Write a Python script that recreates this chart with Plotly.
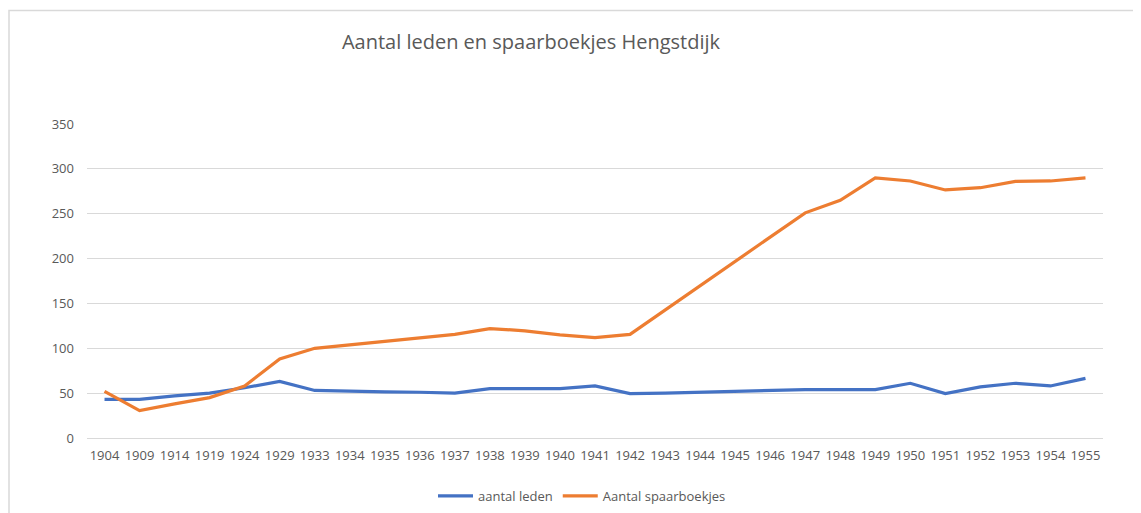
import plotly.graph_objects as go

years = ["1904", "1909", "1914", "1919", "1924", "1929", "1933", "1934", "1935", "1936",
         "1937", "1938", "1939", "1940", "1941", "1942", "1943", "1944", "1945", "1946",
         "1947", "1948", "1949", "1950", "1951", "1952", "1953", "1954", "1955"]

aantal_leden = [43, 43, 47, 50, 56, 63, 53, 52, 51.5, 51, 50, 55, 55, 55, 58, 49.5,
                50, 51, 51.7, 52.4, 54, 54, 54, 61, 49.5, 57, 61, 58, 66.5]

aantal_spaarboekjes = [52, 30.5, 38, 45, 58, 88, 100, 104, 107.5, 111.5, 115.5, 122, 119.5,
                       115, 112, 115.5, 142.5, 169, 196, 223, 251, 265, 290, 286.5, 276.5,
                       279, 286, 286.5, 290]

y_ticks = [0, 50, 100, 150, 200, 250, 300, 350]

FONT = "Open Sans"
GREY = "#595959"

W, H = 1133, 505
L, R, T, B = 79, 1095, 116, 430

fig = go.Figure()
fig.add_trace(go.Scatter(x=years, y=aantal_leden, mode="lines", name="aantal leden",
                         line=dict(color="#4472C4", width=3.2)))
fig.add_trace(go.Scatter(x=years, y=aantal_spaarboekjes, mode="lines", name="Aantal spaarboekjes",
                         line=dict(color="#ED7D31", width=3.2)))

pw, ph = R - L, B - T

fig.update_layout(
    width=W, height=H,
    margin=dict(l=L, r=W - R, t=T, b=H - B, autoexpand=False),
    paper_bgcolor="white", plot_bgcolor="white",
    font=dict(family=FONT, size=13, color=GREY),
    title=dict(text="Aantal leden en spaarboekjes Hengstdijk", x=523 / W, xref="container",
               xanchor="center", y=1 - 34 / H, yref="container", yanchor="middle",
               font=dict(family=FONT, size=20, color=GREY)),
    showlegend=True,
    legend=dict(orientation="h", x=(574 - L) / pw, xanchor="center", y=(B - 488) / ph,
                yanchor="middle", font=dict(family=FONT, size=13, color=GREY), itemwidth=35,
                traceorder="normal"),
    xaxis=dict(type="category", range=[-0.5, len(years) - 0.5], showgrid=False,
               showline=False, ticks="", tickfont=dict(size=13, color=GREY), tickangle=0,
               zeroline=False, ticklabelstandoff=8),
    yaxis=dict(range=[0, 350], tickvals=y_ticks, showgrid=True, gridcolor="#d9d9d9",
               gridwidth=1, zeroline=True, zerolinecolor="#d9d9d9", zerolinewidth=1,
               showline=False, ticks="", tickfont=dict(size=13, color=GREY),
               ticklabelstandoff=12),
    shapes=[dict(type="rect", xref="paper", yref="paper",
                 x0=(1 - L) / pw, x1=1.2, y0=-0.5, y1=(B - 2.5) / ph,
                 line=dict(color="#d9d9d9", width=1.5), fillcolor="rgba(0,0,0,0)",
                 layer="below")],
)

fig.write_html("out.html")
